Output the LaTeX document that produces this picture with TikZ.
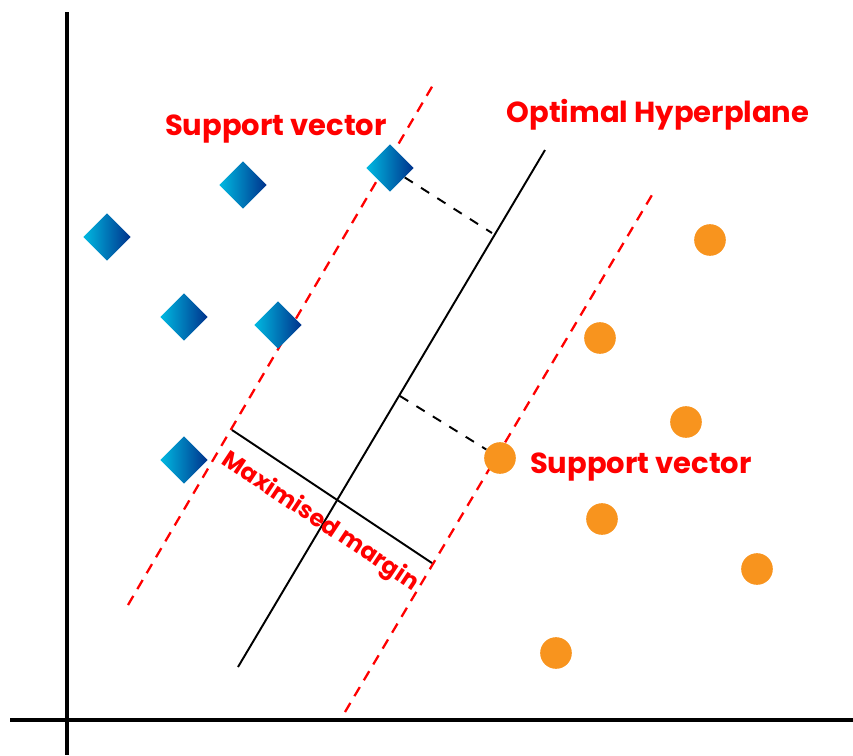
\documentclass[tikz,border=0pt]{standalone}
\usepackage{fontspec}
\setmainfont{Poppins}
\usetikzlibrary{shapes.geometric}
\definecolor{svmred}{RGB}{255,0,0}
\definecolor{svmorange}{RGB}{248,148,30}
\definecolor{lightblue}{RGB}{0,185,225}
\definecolor{darkblue}{RGB}{0,50,140}

\begin{document}
\begin{tikzpicture}[x=0.02cm, y=-0.02cm,
  redlabel/.style={text=svmred, font=\bfseries\fontsize{16.5}{19}\selectfont},
  classa/.style={diamond, minimum size=27pt, inner sep=0pt, left color=lightblue, right color=darkblue},
  classb/.style={circle, minimum size=18pt, inner sep=0pt, fill=svmorange},
  margin/.style={svmred, line width=1.3pt, dash pattern=on 6pt off 4.5pt}]
\useasboundingbox (0,0) rectangle (853,755);

% Axes
\coordinate (ytop) at (67,12);
\coordinate (ybot) at (67,755);
\coordinate (xleft) at (10,720);
\coordinate (xright) at (853,720);
\draw[line width=2.2pt] (ytop) -- (ybot);
\draw[line width=2.2pt] (xleft) -- (xright);

% Hyperplane and margins
\coordinate (hpa) at (238,667);
\coordinate (hpb) at (545,150);
\coordinate (mla) at (128,605);
\coordinate (mlb) at (433,85);
\coordinate (mra) at (345,712);
\coordinate (mrb) at (652,195);
\draw[line width=1.1pt] (hpa) -- (hpb);
\draw[margin] (mla) -- (mlb);
\draw[margin] (mra) -- (mrb);

% Maximised margin
\coordinate (mga) at (232,430);
\coordinate (mgb) at (432,563);
\draw[line width=1.1pt] (mga) -- (mgb);
\node[redlabel, font=\bfseries\fontsize{13.5}{16}\selectfont, rotate=-33.6] (mgtext) at (320,522) {Maximised margin};

% Class A
\node[classa] (a1) at (107,237) {};
\node[classa] (a2) at (243,185) {};
\node[classa] (a3) at (390,168) {};
\node[classa] (a4) at (184,317) {};
\node[classa] (a5) at (278,325) {};
\node[classa] (a6) at (184,460) {};

% Class B
\node[classb] (b1) at (710,240) {};
\node[classb] (b2) at (600,338) {};
\node[classb] (b3) at (686,422) {};
\node[classb] (b4) at (500,458) {};
\node[classb] (b5) at (602,519) {};
\node[classb] (b6) at (757,569) {};
\node[classb] (b7) at (556,653) {};

% Distances to hyperplane
\coordinate (pa) at (492,233);
\coordinate (pb) at (400,396);
\draw[line width=1.1pt, dash pattern=on 5.5pt off 5.5pt] (a3) -- (pa);
\draw[line width=1.1pt, dash pattern=on 5.5pt off 5.5pt] (pb) -- (b4);

% Labels
\node[redlabel] (sva) at (276,129) {Support vector};
\node[redlabel] (svb) at (641,467) {Support vector};
\node[redlabel] (hptext) at (658,115) {Optimal Hyperplane};
\end{tikzpicture}
\end{document}
